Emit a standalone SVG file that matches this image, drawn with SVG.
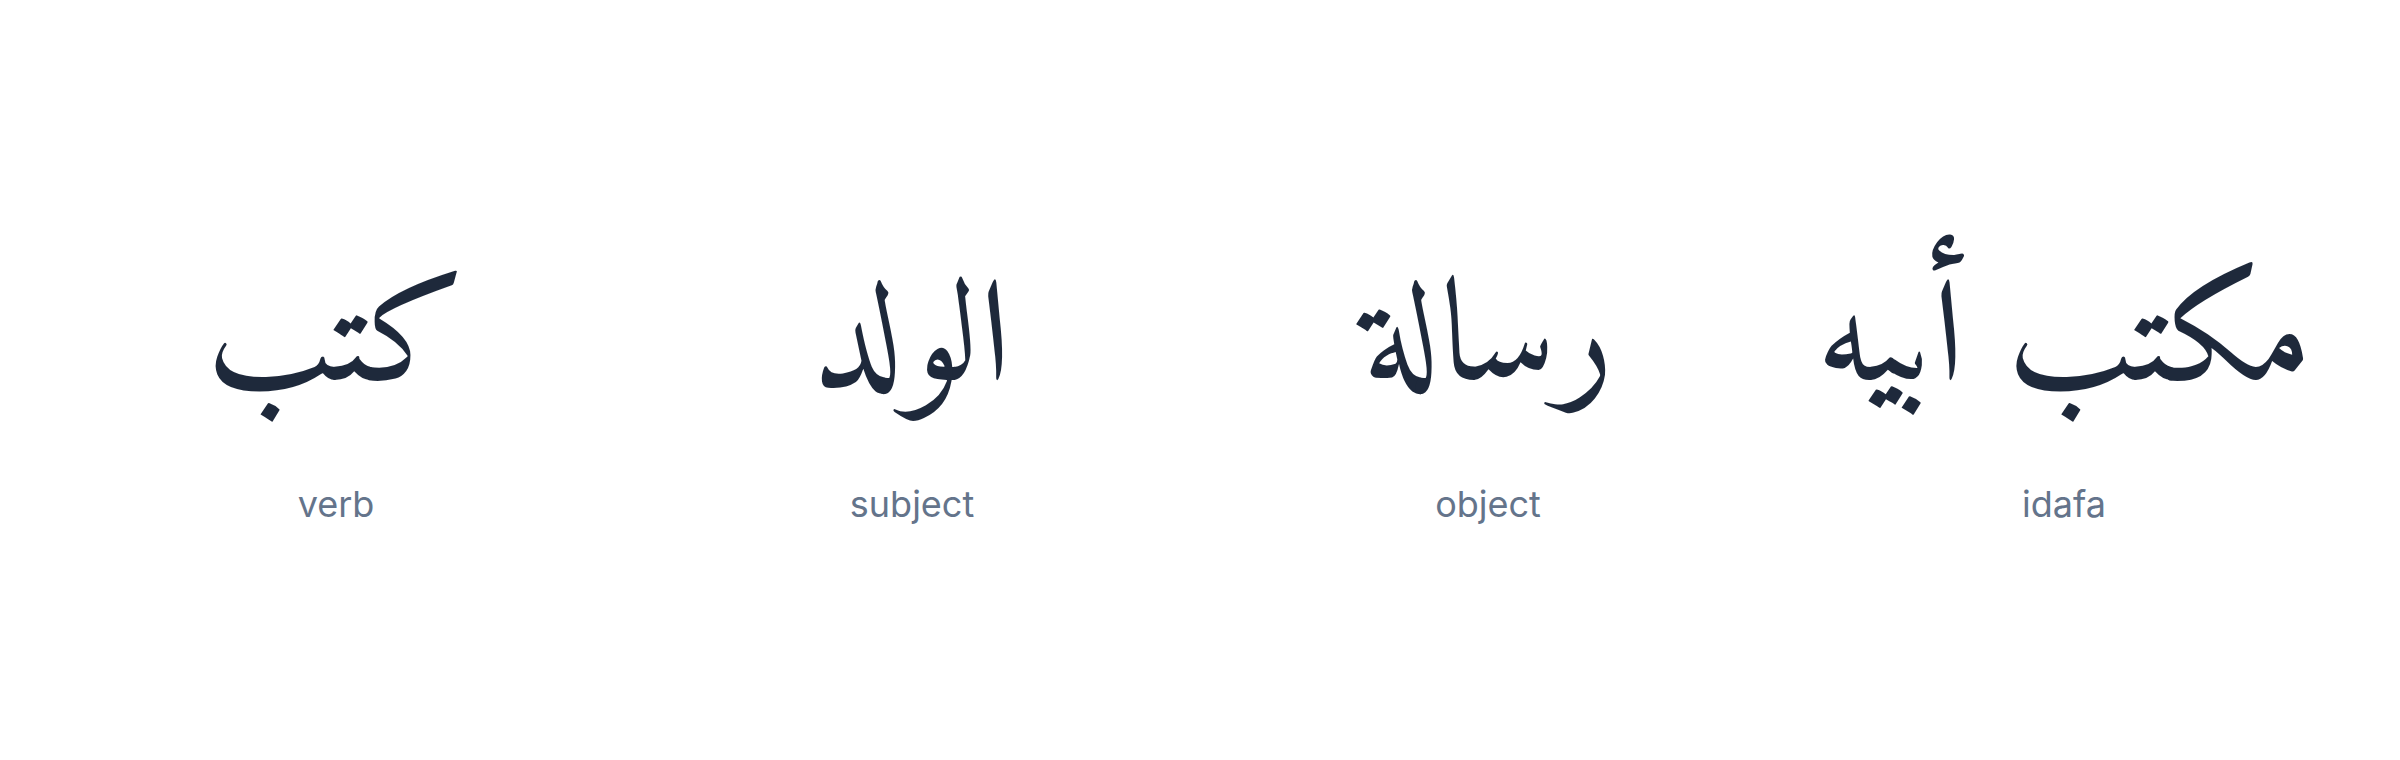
<svg xmlns="http://www.w3.org/2000/svg" width="2400" height="760" viewBox="0 0 2400 760">
<style>
.ar{font-family:Amiri,"Noto Naskh Arabic",serif;font-size:145px;fill:#1e293b;text-anchor:middle}
.lb{font-family:Inter,"Liberation Sans",sans-serif;font-size:36px;fill:#64748b;text-anchor:middle}
</style>
<rect width="2400" height="760" fill="#ffffff"/>
<g id="verb"><text class="ar" x="336" y="380" direction="rtl">كتب</text><text class="lb" x="336" y="517">verb</text></g>
<g id="subject"><text class="ar" x="912" y="380" direction="rtl">الولد</text><text class="lb" x="912" y="517">subject</text></g>
<g id="object"><text class="ar" x="1488" y="380" direction="rtl">رسالة</text><text class="lb" x="1488" y="517">object</text></g>
<g id="idafa"><text class="ar" x="2064" y="380" direction="rtl">مكتب أبيه</text><text class="lb" x="2064" y="517">idafa</text></g>
<g id="connectors"/>
</svg>
